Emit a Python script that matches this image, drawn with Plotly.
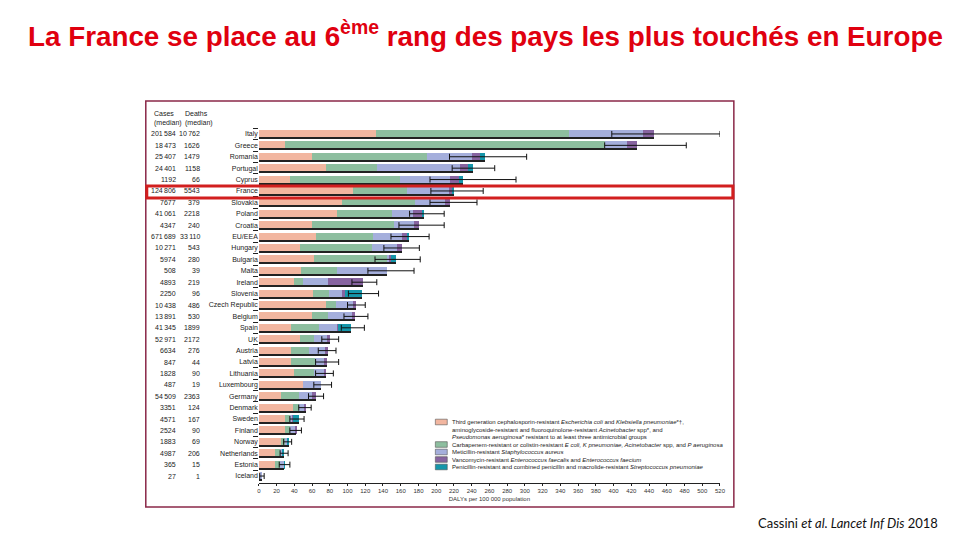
import plotly.graph_objects as go

W, H = 960, 540

countries = ["Italy", "Greece", "Romania", "Portugal", "Cyprus", "France", "Slovakia", "Poland",
             "Croatia", "EU/EEA", "Hungary", "Bulgaria", "Malta", "Ireland", "Slovenia",
             "Czech Republic", "Belgium", "Spain", "UK", "Austria", "Latvia", "Lithuania",
             "Luxembourg", "Germany", "Denmark", "Sweden", "Finland", "Norway", "Netherlands",
             "Estonia", "Iceland"]
cases = [201584, 18473, 25407, 24401, 1192, 124806, 7677, 41061, 4347, 671689, 10271, 5974, 508,
         4893, 2250, 10438, 13891, 41345, 52971, 6634, 847, 1828, 487, 54509, 3351, 4571, 2524,
         1883, 4987, 365, 27]
deaths = [10762, 1626, 1479, 1158, 66, 5543, 379, 2218, 240, 33110, 543, 280, 39, 219, 96, 486,
          530, 1899, 2172, 276, 44, 90, 19, 2363, 124, 167, 90, 69, 206, 15, 1]

# DALYs per 100 000 population, by pathogen group
third_gen = [132, 30, 59.5, 75.5, 35, 106, 94, 88.5, 59.5, 64.4, 46.5, 62, 47, 39.5, 60.6, 76,
             59.5, 35.7, 46.5, 35.7, 35.7, 39.4, 49.5, 25.3, 38.3, 29, 29, 24.6, 18.6, 17.9, 2]
carbapenem = [218, 360, 130.5, 57.5, 124, 61, 82, 62, 93, 64.3, 81, 82, 41.5, 10, 18, 11, 18,
              31.6, 16, 21.3, 28, 22.3, 0, 20.5, 6.7, 5.6, 5.6, 5.4, 5.6, 5.5, 0]
mrsa = [83, 25.5, 50, 94, 56, 47, 33.5, 23, 22.5, 33, 28, 3, 56, 29, 15, 19, 28, 21, 14, 18, 10,
        12, 21, 14, 6, 3, 7, 2, 2.6, 5, 1]
vre = [13, 11.5, 9, 9, 10.5, 4, 6.5, 10, 6, 6, 5.5, 2, 0, 39, 4, 3, 2.5, 1, 3.5, 3, 3, 2, 0,
       4.5, 2, 1, 0.5, 0.5, 0, 0, 0]
prsp = [0, 0, 6, 6, 5, 2, 0, 2.5, 0, 1.6, 0, 6, 0, 0, 19, 0, 0, 15, 0, 0, 0, 0, 0, 0, 0, 6.4,
        0, 1.5, 1.2, 0.5, 0]
ui_low = [398, 390, 215, 218, 193, 194, 193, 170, 158, 149, 141, 131, 123, 105, 101, 100, 96, 93,
          71, 67, 64, 64, 62, 56, 45, 35, 35, 28, 24, 23, 1]
ui_high = [520, 482, 302, 266, 290, 253, 246, 209, 209, 192, 181, 182, 175, 133, 135, 120, 123,
           119, 90, 87, 90, 84, 82, 73, 59, 51, 48, 37, 33, 35, 6]

x_ticks = list(range(0, 521, 20))

series_names = [
    "Third generation cephalosporin-resistant <i>Escherichia coli</i> and <i>Klebsiella pneumoniae</i>*†,<br>"
    "aminoglycoside-resistant and fluoroquinolone-resistant <i>Acinetobacter</i> spp*, and<br>"
    "<i>Pseudomonas aeruginosa</i>* resistant to at least three antimicrobial groups",
    "Carbapenem-resistant or colistin-resistant <i>E coli, K pneumoniae, Acinetobacter</i> spp, and <i>P aeruginosa</i>",
    "Meticillin-resistant <i>Staphylococcus aureus</i>",
    "Vancomycin-resistant <i>Enterococcus faecalis</i> and <i>Enterococcus faecium</i>",
    "Penicillin-resistant and combined penicillin and macrolide-resistant <i>Streptococcus pneumoniae</i>",
]
series = [third_gen, carbapenem, mrsa, vre, prsp]
colors = ["#F2B6A0", "#8DBE9F", "#A5AFDC", "#8764A0", "#1596AA"]

SMALL = "Liberation Sans Narrow, Arial Narrow, Liberation Sans, Arial, sans-serif"


def px(x):
    return x / W


def py(y):
    return 1 - y / H


def fmt(n):
    s = f"{n:,}"
    return s.replace(",", "\u2009") if n >= 10000 else s.replace(",", "")


fig = go.Figure()
for name, vals, col in zip(series_names, series, colors):
    fig.add_trace(go.Bar(x=vals, y=countries, orientation="h", name=name,
                         marker=dict(color=col, line=dict(width=0)),
                         showlegend=False, hoverinfo="x+y"))

totals = [sum(v) for v in zip(*series)]

# thin dark underline beneath every bar (separate overlaid axes so it does not stack)
fig.add_trace(go.Bar(x=totals, y=countries, orientation="h", xaxis="x2", yaxis="y2",
                     width=0.09, offset=0.31, marker=dict(color="#222", line=dict(width=0)),
                     showlegend=False, hoverinfo="skip"))

fig.add_trace(go.Scatter(
    x=totals, y=countries, mode="markers", showlegend=False,
    marker=dict(size=2, color="rgba(0,0,0,0)"),
    error_x=dict(type="data", symmetric=False,
                 array=[h - t for h, t in zip(ui_high, totals)],
                 arrayminus=[t - l for t, l in zip(totals, ui_low)],
                 color="#111111", thickness=1, width=3)))

annotations = []
# title
annotations.append(dict(
    x=px(488), y=py(34), xref="paper", yref="paper", showarrow=False,
    text="<b>La France se place au 6<sup>ème</sup> rang des pays les plus touchés en Europe</b>",
    font=dict(family="Liberation Sans, Arial, sans-serif", size=27.8, color="#E0000F"),
    xanchor="center", yanchor="middle"))
# citation
annotations.append(dict(
    x=px(946), y=py(523), xref="paper", yref="paper", showarrow=False,
    text="Cassini <i>et al. Lancet Inf Dis</i> 2018",
    font=dict(family="Lato, Noto Sans, sans-serif", size=13, color="#111111"),
    xanchor="right", yanchor="middle"))
# column headers
annotations.append(dict(x=px(151), y=py(108), xref="paper", yref="paper", showarrow=False,
                        text="Cases<br>(median)", align="left", xanchor="left", yanchor="top",
                        font=dict(family=SMALL, size=7, color="#222")))
annotations.append(dict(x=px(183), y=py(108), xref="paper", yref="paper", showarrow=False,
                        text="Deaths<br>(median)", align="left", xanchor="left", yanchor="top",
                        font=dict(family=SMALL, size=7, color="#222")))
for c, n, d in zip(countries, cases, deaths):
    annotations.append(dict(x=px(177), y=c, xref="paper", yref="y", showarrow=False,
                            text=fmt(n), xanchor="right", yanchor="middle",
                            font=dict(family=SMALL, size=7, color="#222")))
    annotations.append(dict(x=px(202), y=c, xref="paper", yref="y", showarrow=False,
                            text=fmt(d), xanchor="right", yanchor="middle",
                            font=dict(family=SMALL, size=7, color="#222")))

shapes = []
# legend (manual); multi-line entries are laid out line by line
LINE_STEP = 7.5
leg_rows = [422, 444.5, 452, 459.5, 467]
for name, col, yy in zip(series_names, colors, leg_rows):
    shapes.append(dict(type="rect", xref="paper", yref="paper",
                       x0=px(437), x1=px(449), y0=py(yy + 2.8), y1=py(yy - 2.8),
                       fillcolor=col, line=dict(color="#555", width=0.6)))
    for k, line in enumerate(name.split("<br>")):
        annotations.append(dict(x=px(451.5), y=py(yy + k * LINE_STEP), xref="paper",
                                yref="paper", showarrow=False, text=line, align="left",
                                xanchor="left", yanchor="middle",
                                font=dict(family=SMALL, size=6, color="#222")))

# figure frame
shapes.append(dict(type="rect", xref="paper", yref="paper",
                   x0=px(145), x1=px(738), y0=py(507), y1=py(101),
                   line=dict(color="#8a2848", width=1.5)))
# red highlight around France
shapes.append(dict(type="rect", xref="paper", yref="paper",
                   x0=px(146), x1=px(737), y0=py(198), y1=py(186),
                   line=dict(color="#d21f1f", width=3)))

XDOM = [px(259), px(724)]
YDOM = [py(483), py(123)]
YRANGE = [30.61, -0.96]

fig.update_layout(
    width=W, height=H, margin=dict(l=0, r=0, t=0, b=0),
    paper_bgcolor="white", plot_bgcolor="white",
    barmode="stack", bargap=0.3,
    annotations=annotations, shapes=shapes,
    xaxis=dict(domain=XDOM, range=[0, 520], tickvals=x_ticks,
               showline=True, linecolor="#222", linewidth=1, ticks="outside",
               ticklen=2, tickcolor="#222", showgrid=False, zeroline=False,
               tickfont=dict(family=SMALL, size=6, color="#333"),
               title=dict(text="DALYs per 100 000 population", standoff=3,
                          font=dict(family=SMALL, size=6, color="#333"))),
    yaxis=dict(domain=YDOM, categoryorder="array", categoryarray=countries,
               range=YRANGE, showline=False, ticks="outside", tickson="boundaries",
               ticklen=5, tickcolor="#222", showgrid=False,
               tickfont=dict(family=SMALL, size=7, color="#222")),
    xaxis2=dict(domain=XDOM, range=[0, 520], overlaying="x", anchor="y2", visible=False),
    yaxis2=dict(domain=YDOM, categoryorder="array", categoryarray=countries,
                range=YRANGE, overlaying="y", anchor="x2", visible=False),
    font=dict(family=SMALL),
)

fig.write_html("out.html", config={"displayModeBar": False},
               post_script="document.body.style.margin='0px';")
